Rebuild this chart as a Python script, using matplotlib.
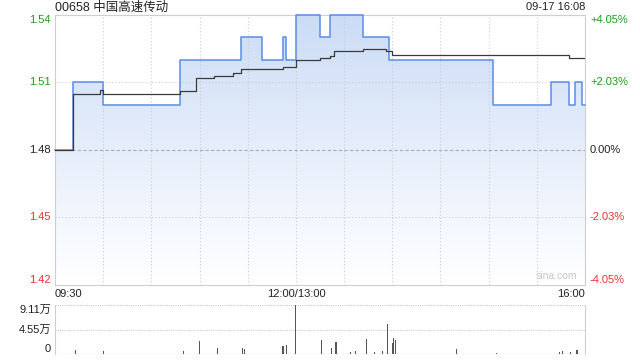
import matplotlib.pyplot as plt
import numpy as np
from matplotlib.colors import LinearSegmentedColormap
from matplotlib.transforms import blended_transform_factory

plt.rcParams['font.family'] = ['Liberation Sans', 'Noto Sans CJK SC', 'DejaVu Sans']

title = "00658 中国高速传动"
stamp = "09-17 16:08"
prev_close = 1.48
pct_ticks = [0.0405, 0.0203, 0.0, -0.0203, -0.0405]
price_labels = ["1.54", "1.51", "1.48", "1.45", "1.42"]
pct_labels = ["+4.05%", "+2.03%", "0.00%", "-2.03%", "-4.05%"]
time_labels = ["09:30", "12:00/13:00", "16:00"]
total_min = 330

# price: minute where a new level starts, price level
price_t = [0, 11, 30, 78, 116, 129, 142, 144, 150, 165, 171, 192, 208, 273, 309, 320, 324, 328, 330]
price_v = [1.48, 1.51, 1.50, 1.52, 1.53, 1.52, 1.53, 1.52, 1.54, 1.53, 1.54, 1.53, 1.52, 1.50, 1.51, 1.50, 1.51, 1.50, 1.50]

# average price
avg_t = [0, 11, 28, 30, 78, 88, 99, 111, 116, 142, 150, 165, 171, 174, 192, 206, 210, 320, 330]
avg_v = [1.48, 1.505, 1.5064, 1.5046, 1.506, 1.512, 1.5128, 1.514, 1.5158, 1.5168, 1.5198, 1.5208,
         1.5217, 1.5238, 1.5248, 1.5238, 1.522, 1.521, 1.521]

# volume (万)
vol_t = [13, 30, 80, 90, 101, 117, 118, 142, 144, 150, 166, 172, 175, 184, 187, 194, 199, 204,
         207, 210, 211, 212, 250, 275, 314, 316, 321, 325]
vol_v = [0.75, 0.5, 0.6, 2.35, 1.2, 1.2, 1.0, 1.4, 1.6, 9.11, 2.66, 1.2, 2.3, 0.4, 0.6, 2.85, 0.4, 0.6,
         5.6, 2.05, 3.0, 2.66, 1.0, 0.25, 0.3, 0.5, 0.4, 0.8]
vol_max = 9.11

green = "#1a9e1a"
red = "#f03030"
grid_c = "#cccccc"
fs = 8

fig = plt.figure(figsize=(6.4, 3.6), dpi=100)
ax = fig.add_axes([55 / 640, 1 - 284.5 / 360, 530 / 640, 270 / 360])
vax = fig.add_axes([55 / 640, 1 - 354 / 360, 530 / 640, 49 / 360])

ymin = prev_close * (1 - 0.0405)
ymax = prev_close * (1 + 0.0405) + 0.0002
ax.set_xlim(0, total_min)
ax.set_ylim(ymin, ymax)

# gradient fill under price line
fill = ax.fill_between(price_t, price_v, ymin, step='post', facecolor='none', edgecolor='none')
cmap = LinearSegmentedColormap.from_list('fillgrad', ['#ffffff', '#e6eefb', '#cbdcf6'])
grad = np.linspace(0, 1, 256).reshape(-1, 1)
im = ax.imshow(grad, extent=[0, total_min, ymin, ymax], origin='lower', aspect='auto', cmap=cmap, zorder=1)
im.set_clip_path(fill.get_paths()[0], transform=ax.transData)

# grid
for m in range(30, total_min, 30):
    ax.axvline(m, color=grid_c, lw=0.8, ls=(0, (1, 2)), zorder=2)
for p in pct_ticks[1:-1]:
    if p == 0:
        ax.axhline(prev_close, color='#aaaaaa', lw=0.8, ls=(0, (3, 2)), zorder=2)
    else:
        ax.axhline(prev_close * (1 + p), color=grid_c, lw=0.8, ls=(0, (1, 2)), zorder=2)

ax.plot(price_t, price_v, drawstyle='steps-post', color='#5a8de6', lw=1.1, zorder=4, clip_on=False)
ax.plot(avg_t, avg_v, drawstyle='steps-post', color='#3a3a3a', lw=0.9, zorder=5)

for s in ax.spines.values():
    s.set_color('#cfcfcf')
ax.set_xticks([])
ax.set_yticks([])

# axis labels as text
tr_side = blended_transform_factory(fig.transFigure, ax.transData)
for p, pl, ql in zip(pct_ticks, price_labels, pct_labels):
    c = green if p > 0 else (red if p < 0 else '#222222')
    va = 'top' if p == pct_ticks[0] else ('bottom' if p == pct_ticks[-1] else 'center')
    y = prev_close * (1 + p)
    ax.text(51 / 640, y, pl, transform=tr_side, ha='right', va=va, color=c, fontsize=fs)
    ax.text(590 / 640, y, ql, transform=tr_side, ha='left', va=va, color=c, fontsize=fs)

xt = ax.get_xaxis_transform()
ax.text(0, -0.018, time_labels[0], transform=xt, ha='left', va='top', fontsize=fs, color='#222')
ax.text(150, -0.018, time_labels[1], transform=xt, ha='center', va='top', fontsize=fs, color='#222')
ax.text(total_min, -0.018, time_labels[2], transform=xt, ha='right', va='top', fontsize=fs, color='#222')
ax.text(0.985, 0.012, "sina.com", transform=ax.transAxes, ha='right', va='bottom', fontsize=7.5, color='#c8c8c8')

fig.text(55 / 640, 1 - 1.5 / 360, title, ha='left', va='top', fontsize=9, color='#222')
fig.text(585 / 640, 1 - 2 / 360, stamp, ha='right', va='top', fontsize=fs, color='#222')

# volume panel
vax.set_xlim(0, total_min)
vax.set_ylim(0, vol_max)
vax.bar(vol_t, vol_v, width=0.7, color='#555555', zorder=3)
vax.axhline(vol_max, color=grid_c, lw=0.8, ls=(0, (1, 1)))
vax.axhline(vol_max / 2, color=grid_c, lw=0.8, ls=(0, (1, 1)))
vax.axhline(0, color='#999999', lw=0.9, ls=(0, (1, 1)))
vax.spines['top'].set_visible(False)
vax.spines['bottom'].set_visible(False)
vax.spines['left'].set_color('#cfcfcf')
vax.spines['right'].set_color('#cfcfcf')
vax.set_xticks([])
vax.set_yticks([])
vol_labels = ["9.11万", "4.55万", "0"]
for v, lab, va in zip([vol_max, vol_max / 2, 0], vol_labels, ['top', 'center', 'bottom']):
    vax.text(-4 / 530 * total_min, v, lab, ha='right', va=va, fontsize=fs, color='#222')

fig.savefig('out.png', dpi=100)
